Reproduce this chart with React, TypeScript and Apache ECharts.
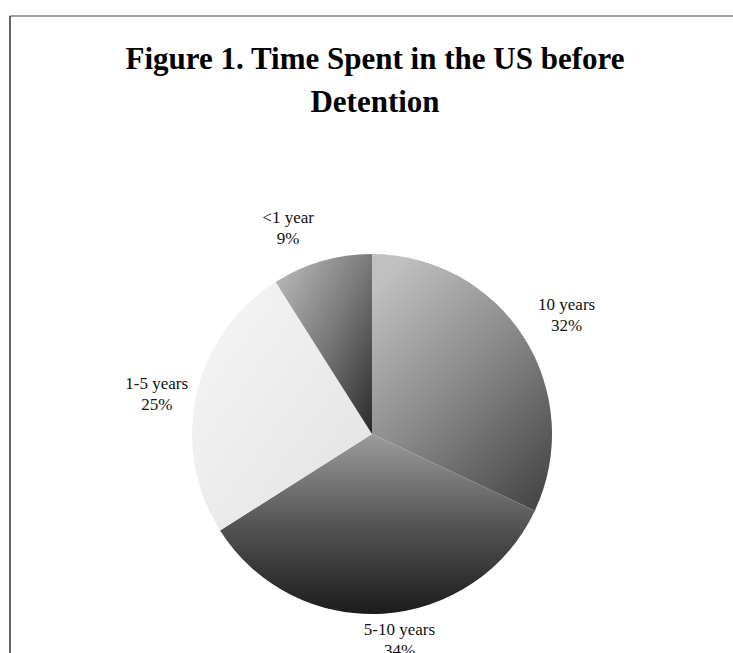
import React, { useEffect, useRef } from "react";
import * as echarts from "echarts";

const categories = ["10 years", "5-10 years", "1-5 years", "<1 year"];
const shares = [32, 34, 25, 9];
const titleLines = ["Figure 1. Time Spent in the US before", "Detention"];

// styling
const sliceGradients = [
  { x: 0.2, y: 0, x2: 0.9, y2: 1, stops: ["#c0c0c0", "#868686", "#454545"] },
  { x: 0.5, y: 0, x2: 0.5, y2: 1, stops: ["#9c9c9c", "#555555", "#1c1c1c"] },
  { x: 0, y: 0, x2: 1, y2: 1, stops: ["#f6f6f6", "#ececec", "#e2e2e2"] },
  { x: 0, y: 0, x2: 1, y2: 1, stops: ["#c0c0c0", "#7a7a7a", "#2a2a2a"] },
];
const labelAngleShift = [-1, 4, 2, 6];
const labelDist = [228, 208, 219, 222];
const CX = 372;
const CY = 434;
const R = 180;

export default function App() {
  const ref = useRef<HTMLDivElement>(null);
  useEffect(() => {
    if (!ref.current) return;
    const chart = echarts.init(ref.current, undefined, { renderer: "svg" });
    const total = shares.reduce((a, b) => a + b, 0);
    const midAngles: number[] = [];
    let acc = 0;
    shares.forEach((v) => {
      const start = 90 - (acc / total) * 360;
      const end = 90 - ((acc + v) / total) * 360;
      midAngles.push((start + end) / 2);
      acc += v;
    });
    chart.setOption({
      animation: false,
      backgroundColor: "#ffffff",
      graphic: [
        { type: "line", shape: { x1: 10, y1: 16, x2: 733, y2: 16 }, style: { stroke: "#444", lineWidth: 1.2 } },
        { type: "line", shape: { x1: 10, y1: 16, x2: 10, y2: 653 }, style: { stroke: "#333", lineWidth: 1.5 } },
        ...titleLines.map((t, i) => ({
          type: "text",
          x: 375,
          y: 58 + i * 43,
          style: {
            text: t,
            fontFamily: "Liberation Serif",
            fontWeight: "bold",
            fontSize: 31,
            fill: "#000",
            textAlign: "center",
            textVerticalAlign: "middle",
          },
        })),
      ],
      series: [
        {
          type: "pie",
          center: [CX, CY],
          radius: [0, R],
          startAngle: 90,
          clockwise: true,
          avoidLabelOverlap: false,
          label: {
            show: true,
            position: "outside",
            formatter: "{b}\n{d}%",
            fontFamily: "Liberation Serif",
            fontSize: 17,
            lineHeight: 21,
            color: "#111",
          },
          labelLine: { show: false },
          labelLayout: (p: any) => {
            const i = p.dataIndex;
            const a = ((midAngles[i] + labelAngleShift[i]) * Math.PI) / 180;
            return {
              x: CX + Math.cos(a) * labelDist[i],
              y: CY - Math.sin(a) * labelDist[i],
              align: "center",
              verticalAlign: "middle",
            };
          },
          data: categories.map((name, i) => {
            const g = sliceGradients[i];
            return {
              name,
              value: shares[i],
              itemStyle: {
                color: new echarts.graphic.LinearGradient(g.x, g.y, g.x2, g.y2, [
                  { offset: 0, color: g.stops[0] },
                  { offset: 0.5, color: g.stops[1] },
                  { offset: 1, color: g.stops[2] },
                ]),
              },
            };
          }),
        },
      ],
    });
    return () => chart.dispose();
  }, []);
  return (
    <div
      ref={ref}
      style={{ position: "absolute", left: 0, top: 0, width: 733, height: 653, background: "#fff" }}
    />
  );
}
